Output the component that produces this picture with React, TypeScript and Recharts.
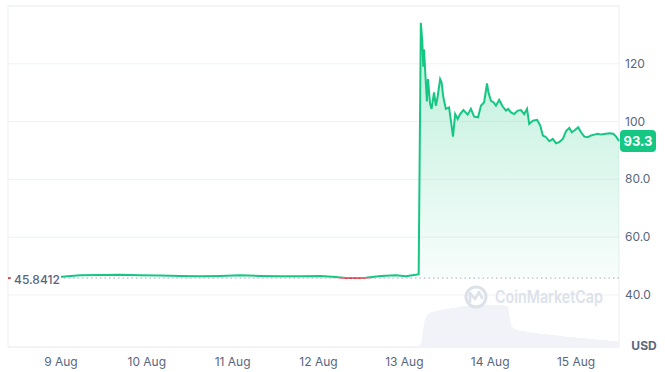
import {
  Area,
  CartesianGrid,
  ComposedChart,
  ReferenceArea,
  ReferenceLine,
  XAxis,
  YAxis,
} from "recharts";

// hours since 8 Aug 00:00
const hours = [
  9.2, 12.5, 18.1, 24.3, 29.3, 34.9, 40.5, 46.1, 51.7, 57.3, 62.9, 68.5, 74.1,
  79.7, 85.4, 91.0, 96.6, 100.8, 103.6, 106.4, 109.2, 113.4, 117.6, 120.4,
  123.2, 124.0, 124.6, 125.0, 125.3, 125.5, 125.8, 126.3, 126.6, 127.2, 127.6,
  128.3, 128.8, 129.2, 130.0, 130.4, 130.9, 131.6, 132.5, 133.0, 133.6, 134.2,
  134.9, 135.6, 136.5, 137.7, 138.6, 139.5, 140.6, 141.4, 142.3, 143.1, 143.5,
  144.2, 144.9, 145.6, 146.5, 147.5, 148.4, 149.0, 149.8, 150.7, 151.7, 152.6,
  153.5, 154.3, 154.9, 155.9, 157.1, 158.0, 158.7, 159.6, 160.5, 161.5, 162.4,
  163.3, 164.3, 165.2, 166.1, 166.8, 167.5, 168.6, 169.4, 170.3, 171.3, 172.2,
  173.1, 174.1, 175.0, 176.4, 177.3, 178.4, 179.2, 180.0,
];

const prices = [
  45.84, 46.0, 46.3, 46.3, 46.8, 46.9, 47.0, 46.8, 46.7, 46.6, 46.5, 46.6, 46.8,
  46.6, 46.5, 46.5, 46.6, 46.2, 45.9, 45.85, 46.0, 46.6, 46.8, 46.5, 47.0, 47.2,
  134.2, 128, 119, 125, 118, 107, 114.7, 106.1, 104.4, 110.1, 105.5, 107.8,
  114.7, 113.6, 108.4, 104.4, 104.9, 100.3, 94.8, 102.6, 100.9, 102.6, 104,
  102.4, 104.4, 101.7, 101.5, 105.5, 106.7, 113.2, 110.1, 107.2, 106.7, 105.5,
  107.5, 105.2, 103.8, 104.4, 103.2, 102.6, 103.8, 104, 102.6, 104.4, 99.2,
  100.3, 100.6, 98.6, 95.2, 94.6, 93.2, 94, 92.5, 92.9, 94, 96.7, 97.8, 96.3,
  96.9, 98, 96.3, 94.8, 94.6, 95.2, 95.5, 95.8, 95.5, 95.8, 96, 95.8, 94.8,
  93.3,
];

// volume, millions USD
const volumes = [
  0.05, 0.05, 0.05, 0.05, 0.05, 0.05, 0.05, 0.05, 0.05, 0.05, 0.05, 0.05, 0.05,
  0.05, 0.05, 0.05, 0.05, 0.05, 0.05, 0.05, 0.05, 0.05, 0.05, 0.05, 0.05, 0.1,
  0.3, 1.0, 1.8, 2.4, 2.8, 3.1, 3.3, 3.4, 3.5, 3.5, 3.6, 3.6, 3.7, 3.7, 3.7,
  3.8, 3.8, 3.9, 3.9, 3.9, 4.0, 4.0, 4.1, 4.1, 4.2, 4.2, 4.2, 4.2, 4.2, 4.2,
  4.2, 4.2, 4.2, 4.2, 4.2, 4.2, 4.1, 4.0, 2.2, 1.8, 1.7, 1.6, 1.6, 1.5, 1.5,
  1.4, 1.4, 1.3, 1.3, 1.3, 1.2, 1.2, 1.2, 1.1, 1.1, 1.0, 1.0, 1.0, 1.0, 0.9,
  0.9, 0.9, 0.8, 0.8, 0.8, 0.7, 0.7, 0.7, 0.6, 0.6, 0.6, 0.6,
];

const xTicks = [24, 48, 72, 96, 120, 144, 168];
const xTickLabels = ["9 Aug", "10 Aug", "11 Aug", "12 Aug", "13 Aug", "14 Aug", "15 Aug"];
const yTicks = [40, 60, 80, 100, 120];

const openPrice = 45.8412;
const lastPrice = 93.3;

const data = hours.map((t, i) => ({ t, price: prices[i], volume: volumes[i] }));

const GREEN = "#16c784";
const RED = "#ea3943";
const GREY = "#58667e";
const FONT = "Inter, sans-serif";

const X_MIN = 9.2;
const X_MAX = 180;
const Y_MIN = 22;
const Y_MAX = 140;

const XTick = ({ x, y, payload }: any) => (
  <text x={x} y={y + 19} textAnchor="middle" fill={GREY} fontSize={12} fontFamily={FONT}>
    {xTickLabels[xTicks.indexOf(payload.value)]}
  </text>
);

const YTick = ({ x, y, payload }: any) => (
  <text x={x + 6} y={y + 4} textAnchor="start" fill={GREY} fontSize={12} fontFamily={FONT}>
    {payload.value < 100 ? payload.value.toFixed(1) : payload.value}
  </text>
);

const OpenTag = ({ viewBox }: any) => (
  <g>
    <rect x={viewBox.x + 3} y={viewBox.y - 8} width={50} height={17} fill="#fff" />
    <text x={viewBox.x + 6} y={viewBox.y + 6} fill={GREY} fontSize={12} fontWeight={500} fontFamily={FONT}>
      45.8412
    </text>
  </g>
);

const PriceTag = ({ viewBox }: any) => {
  const x = viewBox.x + viewBox.width + 1;
  return (
    <g>
      <rect x={x} y={viewBox.y - 11} width={36} height={22} rx={4} fill={GREEN} />
      <text x={x + 18} y={viewBox.y + 5} textAnchor="middle" fill="#fff" fontSize={13} fontWeight={700} fontFamily={FONT}>
        {lastPrice}
      </text>
    </g>
  );
};

export default function App() {
  return (
    <div style={{ position: "relative", width: 665, height: 372 }}>
      <style>{"body{margin:0}"}</style>
      <ComposedChart
        width={665}
        height={372}
        data={data}
        margin={{ top: 6, right: 0, left: 8, bottom: 0 }}
      >
        <defs>
          <linearGradient id="fillGrad" x1="0" y1="0" x2="0" y2="1">
            <stop offset="0%" stopColor={GREEN} stopOpacity={0.3} />
            <stop offset="100%" stopColor={GREEN} stopOpacity={0.03} />
          </linearGradient>
          <linearGradient id="strokeGrad" gradientUnits="userSpaceOnUse" x1="0" y1="6" x2="0" y2="347">
            <stop offset={(Y_MAX - openPrice) / (Y_MAX - Y_MIN)} stopColor={GREEN} />
            <stop offset={(Y_MAX - openPrice) / (Y_MAX - Y_MIN)} stopColor={RED} />
          </linearGradient>
        </defs>
        <CartesianGrid vertical={false} stroke="#eff2f5" />
        <ReferenceArea
          x1={X_MIN}
          x2={X_MAX}
          y1={Y_MIN}
          y2={Y_MAX}
          fill="none"
          stroke="#eceff3"
          strokeOpacity={1}
          ifOverflow="visible"
        />
        <XAxis
          dataKey="t"
          type="number"
          domain={[X_MIN, X_MAX]}
          ticks={xTicks}
          tick={<XTick />}
          axisLine={false}
          tickLine={false}
          tickSize={0}
          tickMargin={0}
          height={25}
        />
        <YAxis
          orientation="right"
          domain={[Y_MIN, Y_MAX]}
          ticks={yTicks}
          tick={<YTick />}
          axisLine={false}
          tickLine={false}
          tickSize={0}
          tickMargin={0}
          width={46}
        />
        <YAxis yAxisId="vol" hide domain={[0, 34.1]} />
        <Area
          yAxisId="vol"
          dataKey="volume"
          type="linear"
          stroke="none"
          fill="#f1f3f8"
          fillOpacity={1}
          isAnimationActive={false}
        />
        <ReferenceLine
          y={openPrice}
          stroke="#a6adbd"
          strokeDasharray="1.5 3"
          label={<OpenTag />}
        />
        <Area
          dataKey="price"
          type="linear"
          baseValue={openPrice}
          stroke="url(#strokeGrad)"
          strokeWidth={2}
          fill="url(#fillGrad)"
          fillOpacity={1}
          dot={false}
          activeDot={false}
          isAnimationActive={false}
        />
        <ReferenceLine y={lastPrice} stroke="none" label={<PriceTag />} />
      </ComposedChart>
      <svg
        width={665}
        height={372}
        style={{ position: "absolute", left: 0, top: 0, pointerEvents: "none" }}
      >
        <circle cx={476} cy={297} r={10} fill="none" stroke="#dde2ea" strokeWidth={3} />
        <path
          d="M470 302 L470 293 L475 299 L479 292 L482 298"
          fill="none"
          stroke="#dde2ea"
          strokeWidth={2.6}
          strokeLinejoin="round"
          strokeLinecap="round"
        />
        <text
          x={495}
          y={303}
          fill="#dde2ea"
          fontSize={17}
          fontWeight={600}
          fontFamily={FONT}
          textLength={108}
          lengthAdjust="spacingAndGlyphs"
        >
          CoinMarketCap
        </text>
        <text x={644} y={350} textAnchor="middle" fill={GREY} fontSize={12} fontWeight={700} fontFamily={FONT}>
          USD
        </text>
      </svg>
    </div>
  );
}
